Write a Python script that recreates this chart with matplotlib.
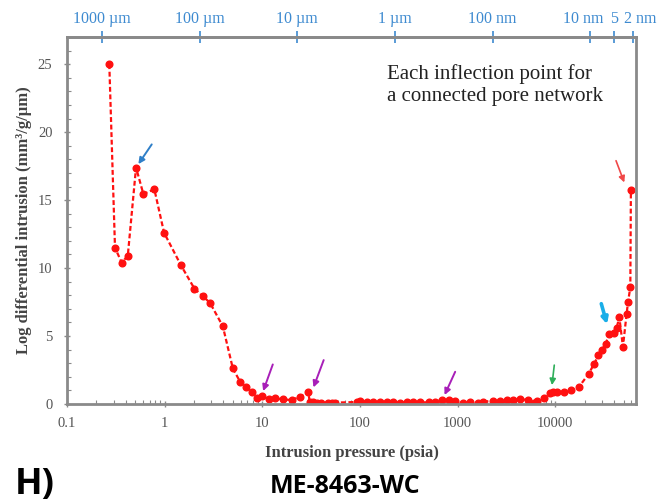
import numpy as np
import matplotlib.pyplot as plt
from matplotlib.ticker import LogLocator, FixedLocator, NullFormatter, FuncFormatter
from matplotlib.transforms import ScaledTranslation

# pressao (psia) e intrusao diferencial log
pressure = [0.271, 0.310, 0.363, 0.419, 0.509, 0.605, 0.784, 0.986, 1.47, 2.02,
            2.46, 2.92, 3.94, 4.99, 5.92, 6.82, 7.80, 8.79, 9.89, 11.6,
            13.5, 16.4, 19.9, 24.4, 29.7, 30.5, 33.4, 36.0, 39.6, 47.5,
            52.0, 55.5,
            93.6, 100.5, 117.7, 137, 161, 189, 220, 258, 302, 353,
            414, 504, 589, 690, 807, 944, 1148, 1345, 1600, 1840,
            2280, 2700, 3200, 3700, 4400, 5200, 6000,
            6490, 7600, 8890, 9500, 10500, 12200, 14500, 17300, 21900, 25100,
            27700, 29800, 32700, 35900, 39600, 42500, 45300, 49300, 53800, 55600,
            58700, 59500]
intrusion = [25.0, 11.5, 10.4, 10.9, 17.4, 15.45, 15.8, 12.6, 10.2, 8.48,
             7.94, 7.43, 5.72, 2.62, 1.64, 1.27, 0.90, 0.42, 0.59, 0.37,
             0.42, 0.34, 0.29, 0.54, 0.90, 0.12, 0.17, 0.10, 0.10, 0.10,
             0.08, 0.10,
             0.15, 0.20, 0.15, 0.12, 0.18, 0.15, 0.12, 0.10, 0.15, 0.15,
             0.12, 0.12, 0.18, 0.30, 0.28, 0.20, 0.08, 0.15, 0.10, 0.18,
             0.22, 0.25, 0.30, 0.32, 0.35, 0.30, 0.05,
             0.20, 0.42, 0.83, 0.88, 0.86, 0.90, 1.00, 1.22, 2.20, 2.98,
             3.59, 3.96, 4.40, 5.18, 5.25, 5.60, 6.40, 4.20, 6.65, 7.50,
             8.60, 15.74]

# eixo de cima: diametro de poro
pore_ticks = [0.228, 2.28, 22.8, 228, 2280, 22800, 40000, 62000]
pore_labels = ['1000 µm', '100 µm', '10 µm', '1 µm', '100 nm', '10 nm', '5', '2 nm']
pore_shift = [0, 0, 0, 0, 0, -7, 0, 8]  # deslocamento dos rotulos (px)

# setas: (cauda x, cauda y, ponta x, ponta y, cor, largura)
arrows = [
    (0.737, 19.1, 0.538, 17.65, '#2f7fc8', 1.4),
    (12.8, 2.91, 10.2, 0.95, '#a81fb8', 1.4),
    (42.5, 3.23, 33.4, 1.22, '#a81fb8', 1.4),
    (944, 2.37, 735, 0.66, '#a81fb8', 1.4),
    (9770, 2.86, 9250, 1.39, '#2fae5a', 1.2),
    (29600, 7.38, 33900, 5.87, '#1aaee8', 2.6),
    (41900, 17.9, 50900, 16.3, '#f04848', 1.2),
]

fig = plt.figure(figsize=(6.59, 5.03), dpi=100)
ax = fig.add_axes([0.1017, 0.1968, 0.8633, 0.7296])

ax.plot(pressure, intrusion, color='#ff1010', lw=1.6, ls=(0, (2.2, 1.2)),
        marker='o', ms=4.8, mec='#ff1010', mfc='#ff1010')

ax.set_xscale('log')
ax.set_xlim(0.1, 67000)
ax.set_ylim(0, 27)
ax.set_yticks([0, 5, 10, 15, 20, 25])
ax.yaxis.set_minor_locator(FixedLocator(np.arange(0, 27.1, 1)))
ax.xaxis.set_major_locator(LogLocator(base=10, numticks=10))
ax.xaxis.set_minor_locator(LogLocator(base=10, subs=np.arange(2, 10), numticks=20))
ax.xaxis.set_minor_formatter(NullFormatter())
ax.xaxis.set_major_formatter(FuncFormatter(lambda v, p: ('%g' % v)))

grey = '#8a8a8a'
for s in ax.spines.values():
    s.set_color(grey)
    s.set_linewidth(2)
ax.tick_params(axis='both', which='major', colors=grey, labelcolor='#555555',
               labelsize=10.5, width=1, length=5, direction='inout')
ax.tick_params(axis='x', which='major', pad=7)
ax.tick_params(axis='y', which='major', pad=8)
ax.tick_params(axis='both', which='minor', colors=grey, width=0.8, length=3, direction='in')
for lab in ax.get_xticklabels() + ax.get_yticklabels():
    lab.set_family('Liberation Serif')

ax.set_xlabel('Intrusion pressure (psia)', fontsize=12, fontweight='bold',
              family='Liberation Serif', color='#444444', labelpad=11)
ax.set_ylabel('Log differential intrusion (mm³/g/µm)', fontsize=12, fontweight='bold',
              family='Liberation Serif', color='#444444', labelpad=4)

top = ax.secondary_xaxis('top')
top.set_xticks(pore_ticks)
top.set_xticklabels(pore_labels)
top.xaxis.set_minor_locator(FixedLocator([]))
top.spines['top'].set_color(grey)
top.spines['top'].set_linewidth(2)
top.tick_params(axis='x', colors='#3d8ad0', labelcolor='#3d8ad0', labelsize=11.5,
                direction='inout', length=8, width=1.2, pad=3)
for lab, dx in zip(top.get_xticklabels(), pore_shift):
    lab.set_family('Liberation Serif')
    if dx:
        lab.set_transform(lab.get_transform() + ScaledTranslation(dx / 100, 0, fig.dpi_scale_trans))

for tx, ty, hx, hy, c, w in arrows:
    ax.annotate('', xy=(hx, hy), xytext=(tx, ty),
                arrowprops=dict(arrowstyle='-|>', color=c, lw=w, mutation_scale=9,
                                shrinkA=0, shrinkB=0))

ax.text(0.562, 0.925, 'Each inflection point for\na connected pore network',
        transform=ax.transAxes, fontsize=15, family='Liberation Serif',
        color='#222222', va='top', ha='left', linespacing=1.15)

fig.text(0.022, 0.035, 'H)', fontsize=26, fontweight='bold', family='Open Sans', va='center')
fig.text(0.523, 0.033, 'ME-8463-WC', fontsize=18, fontweight='bold', family='Open Sans',
         ha='center', va='center')

fig.savefig('out.png', dpi=100)
